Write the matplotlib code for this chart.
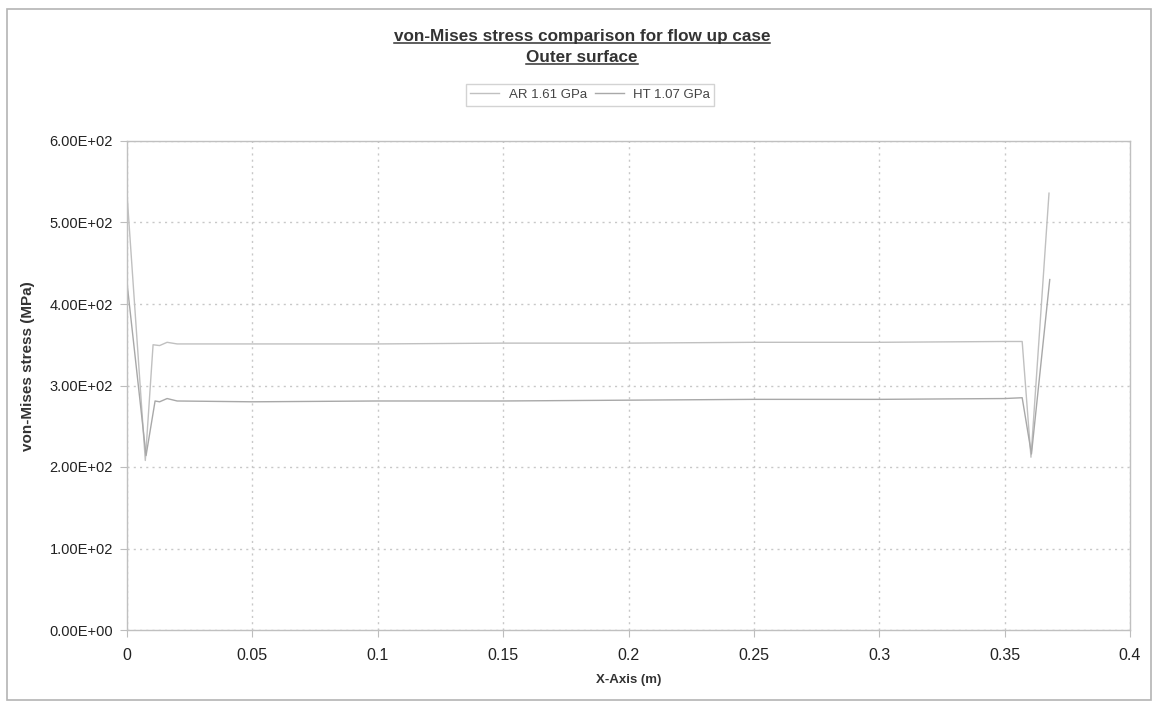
import matplotlib
matplotlib.use("Agg")
import matplotlib.pyplot as plt
from matplotlib.patches import Rectangle

plt.rcParams['font.family'] = ['Liberation Sans', 'DejaVu Sans']

# Position along the outer surface (m)
ar_x = [0.0, 0.0073, 0.0104, 0.013, 0.016, 0.02, 0.05, 0.1, 0.15, 0.2, 0.25, 0.3, 0.35, 0.357, 0.3605, 0.3677]
ar_stress = [535, 208, 350, 349, 353, 351, 351, 351, 352, 352, 353, 353, 354, 354, 212, 536]

ht_x = [0.0, 0.0076, 0.0112, 0.013, 0.016, 0.02, 0.05, 0.1, 0.15, 0.2, 0.25, 0.3, 0.35, 0.357, 0.3607, 0.368]
ht_stress = [426, 214, 281, 280, 284, 281, 280, 281, 281, 282, 283, 283, 284, 285, 216, 430]

series_labels = ["AR 1.61 GPa", "HT 1.07 GPa"]
x_ticks = [0, 0.05, 0.1, 0.15, 0.2, 0.25, 0.3, 0.35, 0.4]
x_tick_labels = ["0", "0.05", "0.1", "0.15", "0.2", "0.25", "0.3", "0.35", "0.4"]
y_ticks = [0, 100, 200, 300, 400, 500, 600]
y_tick_labels = ["0.00E+00", "1.00E+02", "2.00E+02", "3.00E+02", "4.00E+02", "5.00E+02", "6.00E+02"]

W, H = 1157, 703
fig = plt.figure(figsize=(W / 100, H / 100), dpi=100)
fig.patch.set_facecolor('white')

# Outer chart frame
fig.patches.append(Rectangle((7 / W, 1 - 700 / H), (1151 - 7) / W, (700 - 9) / H,
                             transform=fig.transFigure, fill=False,
                             edgecolor='#b4b4b4', linewidth=1.2))

ax = fig.add_axes([127 / W, 1 - 630 / H, (1130 - 127) / W, (630 - 141) / H])

ax.plot(ar_x, ar_stress, color='#c0c0c0', linewidth=1.0, label=series_labels[0])
ax.plot(ht_x, ht_stress, color='#a8a8a8', linewidth=1.0, label=series_labels[1])

ax.set_xlim(0, 0.4)
ax.set_ylim(0, 600)
ax.set_xticks(x_ticks)
ax.set_xticklabels(x_tick_labels)
ax.set_yticks(y_ticks)
ax.set_yticklabels(y_tick_labels)
ax.tick_params(axis='both', which='major', labelsize=10.5, colors='#bdbdbd',
               labelcolor='#222222', length=5, width=0.8, direction='out')
ax.tick_params(axis='x', labelsize=11.5, pad=8)
ax.tick_params(axis='y', pad=5)

ax.grid(True, color='#c8c8c8', linestyle=(0, (1.5, 3)), linewidth=1.0)
for s in ax.spines.values():
    s.set_color('#c0c0c0')
    s.set_linewidth(1.0)

ax.set_xlabel("X-Axis (m)", fontsize=9.5, fontweight='bold', color='#333333', labelpad=8)
ax.set_ylabel("von-Mises stress (MPa)", fontsize=11, fontweight='bold', color='#333333')
ax.yaxis.set_label_coords((35 - 127) / (1130 - 127), (630 - 366) / (630 - 141))

fig.text(0.503, 1 - 37 / H, "von-Mises stress comparison for flow up case",
         ha='center', va='center', fontsize=12.3, fontweight='bold', color='#333333')
fig.text(0.503, 1 - 58 / H, "Outer surface",
         ha='center', va='center', fontsize=12.3, fontweight='bold', color='#333333')

# Underlines for the title lines
fig.canvas.draw()
renderer = fig.canvas.get_renderer()
for t in fig.texts:
    bb = t.get_window_extent(renderer=renderer)
    y = bb.y0 + 1.5
    fig.add_artist(plt.Line2D([bb.x0 / W, bb.x1 / W], [y / H, y / H],
                              transform=fig.transFigure, color='#333333', linewidth=1.1))

leg = ax.legend(loc='center', bbox_to_anchor=(590 / W, 1 - 95 / H),
                bbox_transform=fig.transFigure, ncol=2, fontsize=9.5,
                frameon=True, fancybox=False, edgecolor='#c8c8c8',
                handlelength=2.2, columnspacing=0.6, handletextpad=0.7,
                borderpad=0.35, borderaxespad=0)
for txt in leg.get_texts():
    txt.set_color('#444444')

fig.savefig("out.png", dpi=100, facecolor='white')
